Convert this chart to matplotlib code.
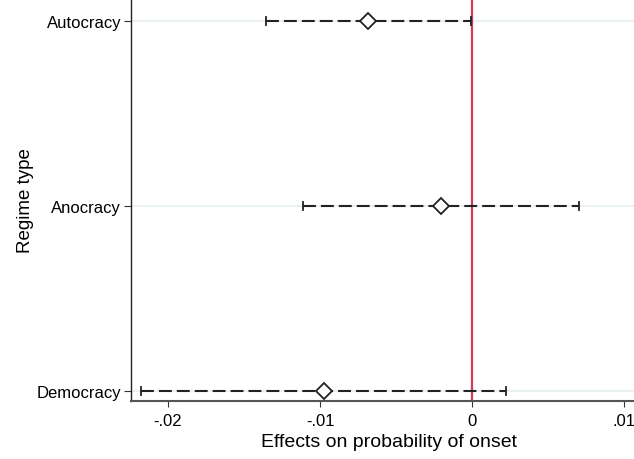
import matplotlib
matplotlib.use("Agg")
import matplotlib.pyplot as plt

categories = ["Democracy", "Anocracy", "Autocracy"]
estimates = [-0.00974, -0.00207, -0.00684]
ci_low = [-0.0218, -0.0111, -0.01355]
ci_high = [0.00224, 0.00704, -0.0001]
xticks = [-0.02, -0.01, 0, 0.01]
xticklabels = ["-.02", "-.01", "0", ".01"]

plt.rcParams['font.family'] = ['Liberation Sans', 'DejaVu Sans']

fig = plt.figure(figsize=(6.34, 4.6), dpi=100)
ax = fig.add_axes([131/634, 1 - 402/460, (647 - 131)/634, 402/460])

ypos = [1, 2, 3]
for y in ypos:
    ax.axhline(y, color='#e8f0f2', lw=1.3, zorder=0)

ax.axvline(0, color='#cf3a5c', lw=1.6, zorder=1)

for y, est, lo, hi in zip(ypos, estimates, ci_low, ci_high):
    ax.plot([lo, hi], [y, y], color='#222222', lw=1.5, linestyle=(0, (6.2, 2.4)), zorder=2)
    ax.plot([lo, lo], [y - 0.022, y + 0.022], color='#222222', lw=1.3, zorder=2)
    ax.plot([hi, hi], [y - 0.022, y + 0.022], color='#222222', lw=1.3, zorder=2)
ax.plot(estimates, ypos, linestyle='none', marker='D', markersize=8.5,
        markerfacecolor='white', markeredgecolor='#222222', markeredgewidth=1.3, zorder=3)

ax.set_xlim(-0.02243, 0.0115)
ax.set_ylim(1 - 10/185, 3 + 22/185)
ax.set_xticks(xticks)
ax.set_xticklabels(xticklabels, fontsize=12)
ax.set_yticks(ypos)
ax.set_yticklabels(categories, fontsize=12)
ax.tick_params(axis='y', length=5, width=0.8, color='#333333', pad=2)
ax.tick_params(axis='x', length=4, width=0.8, color='#333333', pad=5)

for s in ['top', 'right']:
    ax.spines[s].set_visible(False)
ax.spines['left'].set_color('#222222')
ax.spines['left'].set_linewidth(1.0)
ax.spines['bottom'].set_color('#555555')
ax.spines['bottom'].set_linewidth(1.5)

ax.set_xlabel("Effects on probability of onset", fontsize=14, labelpad=3)
ax.set_ylabel("Regime type", fontsize=13.5, labelpad=2)

fig.savefig("out.png", dpi=100)
